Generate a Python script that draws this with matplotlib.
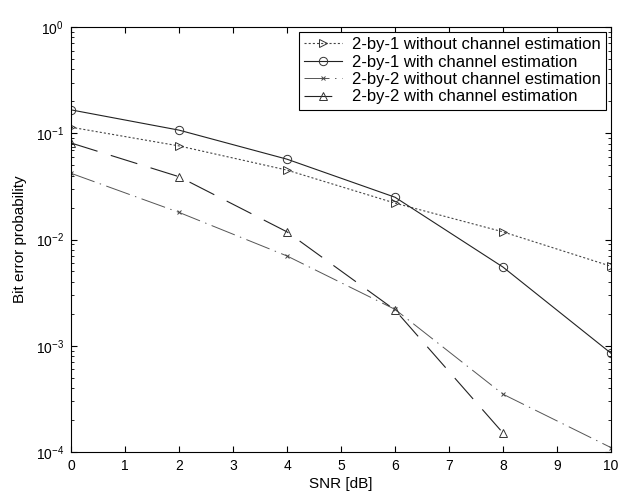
import numpy as np
import matplotlib
matplotlib.use('Agg')
import matplotlib.pyplot as plt

plt.rcParams['font.family'] = ['Liberation Sans', 'DejaVu Sans']

# SNR points and BER values
snr = [0, 2, 4, 6, 8, 10]
ber_21_no_est = [0.114, 0.076, 0.045, 0.022, 0.0118, 0.0056]
ber_21_est = [0.166, 0.107, 0.057, 0.025, 0.0055, 0.00085]
ber_22_no_est = [0.042, 0.018, 0.0070, 0.0022, 0.00035, 0.00011]
snr_22_est = [0, 2, 4, 6, 8]
ber_22_est = [0.081, 0.039, 0.0118, 0.00217, 0.000151]

labels = ['2-by-1 without channel estimation',
          '2-by-1 with channel estimation',
          '2-by-2 without channel estimation',
          '2-by-2 with channel estimation']

fig = plt.figure(figsize=(6.19, 4.95), dpi=100)
ax = fig.add_axes([71/619, 1-452/495, (611-71)/619, (452-27)/495])

plt.rcParams['lines.scale_dashes'] = False
ax.semilogy(snr, ber_21_no_est, color='#444444', lw=0.8, linestyle=(0, (1.5, 1.5)),
            marker='>', ms=6, mfc='none', mec='#333333', mew=0.7, label=labels[0])
ax.semilogy(snr, ber_21_est, color='#222222', lw=0.8, linestyle='-',
            marker='o', ms=6, mfc='none', mec='#333333', mew=0.7, label=labels[1])
ax.semilogy(snr, ber_22_no_est, color='#555555', lw=0.7, linestyle=(0, (18, 4, 1, 4)),
            marker='x', ms=3, mec='#444444', mew=0.7, label=labels[2])
ax.semilogy(snr_22_est, ber_22_est, color='#222222', lw=0.8, linestyle=(0, (20, 10)),
            marker='^', ms=6, mfc='none', mec='#333333', mew=0.7, label=labels[3])

ax.set_xlim(0, 10)
ax.set_ylim(1e-4, 1)
ax.set_xticks(range(0, 11))
ax.set_xlabel('SNR [dB]', fontsize=11, labelpad=3)
ax.set_ylabel('Bit error probability', fontsize=11, labelpad=6)
ax.tick_params(which='both', direction='in', top=True, right=True, labelsize=10)
ax.tick_params(which='major', length=4, pad=5)
ax.tick_params(which='minor', length=2)
for s in ax.spines.values():
    s.set_linewidth(0.8)

leg = ax.legend(loc='upper right', fontsize=12, fancybox=False, framealpha=1,
                edgecolor='black', borderpad=0.3, labelspacing=0.15,
                handlelength=2.3, handletextpad=0.6, borderaxespad=0.3)
leg.get_frame().set_linewidth(0.8)

fig.savefig('out.png', dpi=100)
